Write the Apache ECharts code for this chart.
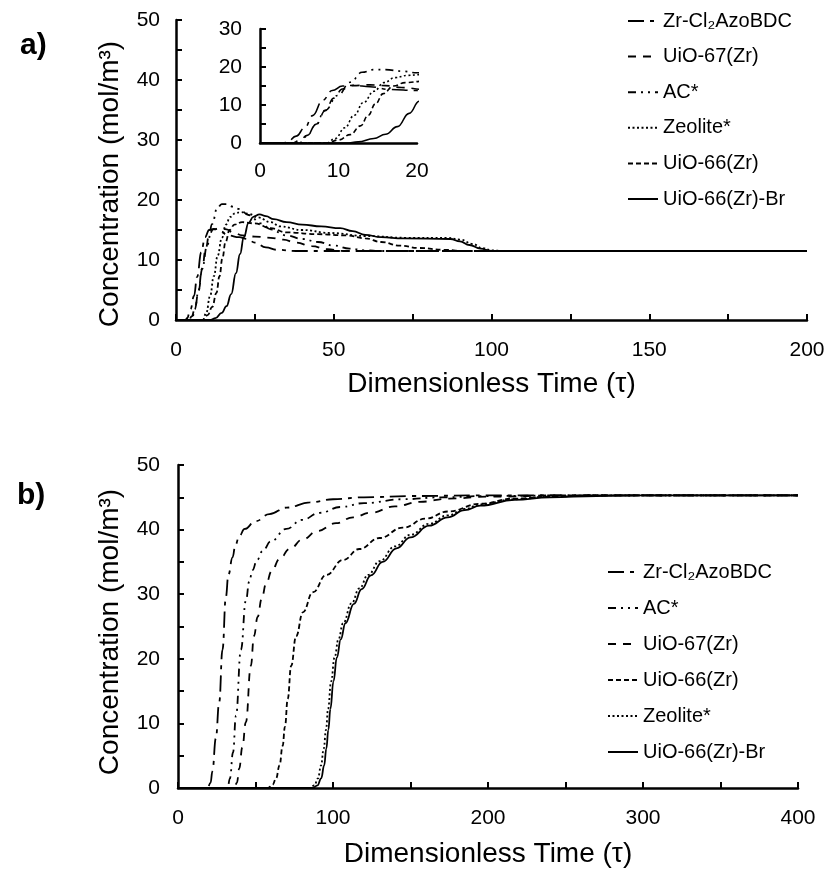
<!DOCTYPE html>
<html>
<head>
<meta charset="utf-8">
<script src="https://cdn.jsdelivr.net/npm/echarts@6/dist/echarts.min.js"></script>
<style>html,body{margin:0;padding:0;background:#fff}#c{width:828px;height:884px}</style>
</head>
<body>
<div id="c"></div>
<script>
// ---------- DATA ----------
const seriesNames = ['Zr-Cl₂AzoBDC', 'UiO-67(Zr)', 'AC*', 'Zeolite*', 'UiO-66(Zr)', 'UiO-66(Zr)-Br'];
const legendOrderA = ['Zr-Cl₂AzoBDC', 'UiO-67(Zr)', 'AC*', 'Zeolite*', 'UiO-66(Zr)', 'UiO-66(Zr)-Br'];
const legendOrderB = ['Zr-Cl₂AzoBDC', 'AC*', 'UiO-67(Zr)', 'UiO-66(Zr)', 'Zeolite*', 'UiO-66(Zr)-Br'];

// Panel a: [tau, concentration]
const aZr = [[0,0],[3,0],[3.5,0.3],[4.6,1.8],[5.7,4],[6.7,7.2],[8,11.3],[9.2,13.8],[10.5,15],[12,15.2],[14,14.8],[16.5,14.1],[20,13.8],[22.6,13.5],[25,12.9],[28.5,12.1],[32,11.7],[38,11.5],[200,11.5]];
const aU67 = [[0,0],[4.1,0],[5,0.6],[6,2],[7.2,5],[8.3,8.5],[9.4,11.8],[10.5,14.2],[11.8,15.1],[14,15.3],[16,15.1],[18,14.6],[21,14.1],[25,13.9],[30,13.7],[34,13.4],[38,12.9],[43,12.3],[48,11.8],[53,11.5],[200,11.5]];
const aAC = [[0,0],[5,0],[6,1.8],[7,4.5],[8.3,8.6],[9.9,12.5],[11.5,16],[13,18.6],[14.5,19.3],[16,19.3],[18,18.9],[20,18.5],[23,17.5],[27,16.1],[30,15.1],[35,14.1],[40,13.5],[45,13],[50,12.4],[55,11.9],[60,11.6],[65,11.5],[200,11.5]];
const aZeo = [[0,0],[8.5,0],[9.6,1.2],[10.8,4],[12,7.3],[13.2,10.7],[14.5,13.6],[15.8,15.9],[17.2,17.2],[18.8,17.8],[20.5,18],[23,17.7],[26,17.1],[30,16.3],[33,15.6],[40,15],[49,14.5],[60,14],[73,13.7],[86,13.7],[90,13.4],[94,12.7],[97,12],[100,11.6],[104,11.5],[200,11.5]];
const aU66 = [[0,0],[8.5,0],[10,0.8],[11.5,2.2],[12.8,4.5],[13.8,7.3],[14.7,10.3],[15.7,13],[17,15],[18.5,15.9],[21,16.3],[25,16.1],[30,15.3],[35,14.6],[45,14.3],[54,14.1],[60,13.6],[65,13],[71,12.4],[77,12],[85,11.7],[91,11.5],[200,11.5]];
const aBr = [[0,0],[11,0],[12.5,0.3],[14.5,1.2],[16,2.3],[17.5,4.3],[19,7.8],[20.3,11],[21.5,13.8],[23,16.2],[24.5,17.2],[26.5,17.6],[28.5,17.3],[31,16.8],[35,16.3],[40,15.9],[46,15.6],[52,15.3],[56,14.8],[60,14.2],[65,13.8],[72,13.6],[87,13.5],[90,13.1],[93,12.5],[96.5,11.9],[100,11.5],[200,11.5]];

// Panel b: [tau, concentration]
const bZr = [[0,0],[19,0],[21,0.8],[22.2,2.6],[24.4,7.7],[26.6,13.3],[28.7,21.4],[30.9,29.6],[32.5,33],[35.2,35.7],[37,37.6],[39.5,39],[43,40.1],[50,41.3],[59,42.4],[70,43.4],[85,44.2],[100,44.7],[120,45],[150,45.2],[200,45.3],[400,45.3]];
const bAC = [[0,0],[32,0],[33.5,1.5],[35.5,5.5],[37.4,11.2],[40.6,21.4],[43.8,29],[46,32],[48,33.7],[51,35.3],[54.6,36.7],[60,38.2],[69.8,40.1],[80,41.5],[91.4,42.6],[105,43.5],[120,44.1],[145,44.7],[170,45],[200,45.2],[250,45.3],[400,45.3]];
const bU67 = [[0,0],[36.3,0],[38,0.8],[39.5,3],[41.5,6.3],[43.8,10.2],[47,18.9],[49,23.5],[51.4,26.5],[54,29.3],[56.8,31.6],[60.5,33.6],[65.4,35.4],[72,37],[80.6,38.5],[90,39.8],[102,41],[113,41.9],[124,42.6],[140,43.6],[156,44.3],[175,44.8],[200,45.1],[250,45.3],[400,45.3]];
const bU66 = [[0,0],[58,0],[61,0.5],[63.3,1.5],[65.5,3.5],[67.5,6.5],[69,9.5],[70.8,13.8],[73,18.9],[76.2,23.5],[80.6,27.2],[87,30.3],[95.7,33],[106.5,35.3],[117,37],[130,38.7],[145,40.3],[160,41.7],[174,42.8],[195,44],[217,44.8],[240,45.1],[270,45.3],[400,45.3]];
const bZeo = [[0,0],[85,0],[88,0.4],[90.3,1.5],[92.3,3.5],[94,6.1],[95.5,9],[96.8,12.2],[98.8,16.5],[101,20.2],[103.5,23],[106.5,25.5],[112,28.6],[117,30.9],[122.7,33],[130,35.1],[140,37.4],[150,39.2],[162,40.9],[174,42.2],[185,43.2],[195,43.9],[217,44.7],[240,45.1],[270,45.3],[400,45.3]];
const bBr = [[0,0],[87,0],[90,0.4],[92.4,1.5],[94.3,3.5],[95.7,6.1],[97,9],[98.3,12.2],[100.3,16.5],[102.5,20.2],[105,23],[108,25.5],[113.5,28.5],[118.5,30.8],[124.5,32.9],[132,35],[141,37.1],[150,38.8],[162,40.6],[174,41.9],[185,43],[195,43.7],[217,44.6],[240,45],[270,45.2],[300,45.3],[400,45.3]];

const panelA = {'Zr-Cl₂AzoBDC': aZr, 'UiO-67(Zr)': aU67, 'AC*': aAC, 'Zeolite*': aZeo, 'UiO-66(Zr)': aU66, 'UiO-66(Zr)-Br': aBr};
const panelB = {'Zr-Cl₂AzoBDC': bZr, 'UiO-67(Zr)': bU67, 'AC*': bAC, 'Zeolite*': bZeo, 'UiO-66(Zr)': bU66, 'UiO-66(Zr)-Br': bBr};

// ---------- STYLE ----------
const FONT = "'Liberation Sans', Arial, Helvetica, sans-serif";
const dash = {
  'Zr-Cl₂AzoBDC': [16, 6, 4, 6],
  'UiO-67(Zr)': [8, 7],
  'AC*': [8, 5, 2, 5, 2, 5],
  'Zeolite*': [2, 2.5],
  'UiO-66(Zr)': [5, 3],
  'UiO-66(Zr)-Br': 'solid'
};

function mkSeries(dataMap, xi, w) {
  return seriesNames.map(n => ({
    name: n, type: 'line', xAxisIndex: xi, yAxisIndex: xi,
    data: dataMap[n], symbol: 'none', smooth: 0.45, smoothMonotone: 'x',
    clip: true, silent: true, animation: false,
    itemStyle: {color: '#000'},
    lineStyle: {color: '#000', width: w, type: dash[n]}
  }));
}

const axisLineS = {show: true, onZero: false, lineStyle: {color: '#000', width: 2.5}};
const tickS = {show: true, inside: true, length: 6, lineStyle: {color: '#000', width: 2}};
const lbl = (step, margin) => ({
  color: '#000', fontSize: 21, fontFamily: FONT, margin: margin,
  formatter: v => (Math.round(v) % step === 0 ? String(v) : '')
});
const legendBase = {
  orient: 'vertical', itemWidth: 30, itemHeight: 14, selectedMode: false,
  itemStyle: {opacity: 0, borderWidth: 0},
  textStyle: {color: '#000', fontSize: 20, fontFamily: FONT, lineHeight: 20}
};

const option = {
  backgroundColor: '#fff',
  color: ['#000'],
  animation: false,
  grid: [
    {left: 176, top: 20, width: 631, height: 300},
    {left: 260, top: 29, width: 157, height: 114},
    {left: 178, top: 465, width: 620, height: 323}
  ],
  xAxis: [
    {gridIndex: 0, type: 'value', min: 0, max: 200, interval: 25, axisLine: axisLineS, axisTick: tickS,
     axisLabel: lbl(50, 20), splitLine: {show: false},
     name: 'Dimensionless Time (τ)', nameLocation: 'middle', nameGap: 50,
     nameTextStyle: {color: '#000', fontSize: 28, fontFamily: FONT}},
    {gridIndex: 1, type: 'value', min: 0, max: 20, interval: 10, axisLine: axisLineS, axisTick: {show: false},
     axisLabel: lbl(10, 18), splitLine: {show: false}},
    {gridIndex: 2, type: 'value', min: 0, max: 400, interval: 50, axisLine: axisLineS, axisTick: tickS,
     axisLabel: lbl(100, 20), splitLine: {show: false},
     name: 'Dimensionless Time (τ)', nameLocation: 'middle', nameGap: 52,
     nameTextStyle: {color: '#000', fontSize: 28, fontFamily: FONT}}
  ],
  yAxis: [
    {gridIndex: 0, type: 'value', min: 0, max: 50, interval: 5, axisLine: axisLineS, axisTick: tickS,
     axisLabel: lbl(10, 16), splitLine: {show: false}},
    {gridIndex: 1, type: 'value', min: 0, max: 30, interval: 5, axisLine: axisLineS, axisTick: tickS,
     axisLabel: lbl(10, 18), splitLine: {show: false}},
    {gridIndex: 2, type: 'value', min: 0, max: 50, interval: 5, axisLine: axisLineS, axisTick: tickS,
     axisLabel: lbl(10, 18), splitLine: {show: false}}
  ],
  legend: [
    Object.assign({}, legendBase, {data: legendOrderA, left: 622, top: 6, itemGap: 15.6}),
    Object.assign({}, legendBase, {data: legendOrderB, left: 602, top: 557, itemGap: 16})
  ],
  graphic: [
    {type: 'text', left: 20, top: 31, style: {text: 'a)', fill: '#000', font: 'bold 30px ' + FONT}},
    {type: 'text', left: 17, top: 481, style: {text: 'b)', fill: '#000', font: 'bold 30px ' + FONT}},
    {type: 'text', x: 110, y: 184, rotation: Math.PI / 2,
     style: {text: 'Concentration (mol/m³)', fill: '#000', font: '28px ' + FONT, align: 'center', verticalAlign: 'middle'}},
    {type: 'text', x: 110, y: 632, rotation: Math.PI / 2,
     style: {text: 'Concentration (mol/m³)', fill: '#000', font: '28px ' + FONT, align: 'center', verticalAlign: 'middle'}}
  ],
  series: [].concat(mkSeries(panelA, 0, 1.8), mkSeries(panelA, 1, 1.6), mkSeries(panelB, 2, 1.8))
};

const chart = echarts.init(document.getElementById('c'), null, {renderer: 'canvas'});
chart.setOption(option);
</script>
</body>
</html>
